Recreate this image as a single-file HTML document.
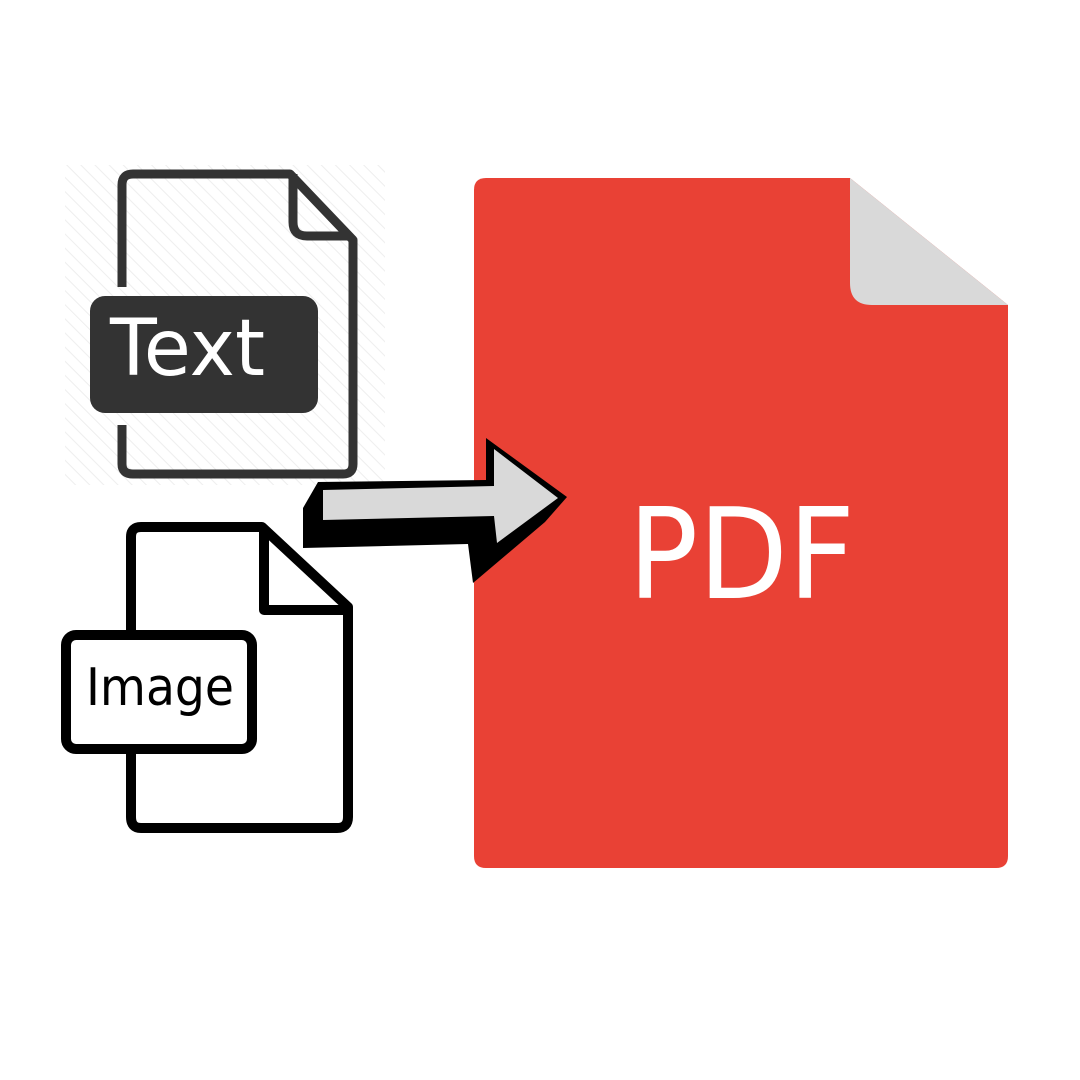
<!DOCTYPE html>
<html><head><meta charset="utf-8"><style>html,body{margin:0;padding:0;background:#fff}svg{display:block}</style></head>
<body>
<svg width="1080" height="1080" viewBox="0 0 1080 1080" xmlns="http://www.w3.org/2000/svg">
<defs>
<pattern id="h" width="10" height="10" patternUnits="userSpaceOnUse" patternTransform="rotate(-45)">
<line x1="0" y1="0" x2="0" y2="10" stroke="#eeeeee" stroke-width="2"/>
</pattern>
</defs>
<rect width="1080" height="1080" fill="#fff"/>
<rect x="65" y="165" width="320" height="320" fill="url(#h)"/>
<!-- PDF doc -->
<path d="M486 178 H850 L1008 305 V856 Q1008 868 996 868 H486 Q474 868 474 856 V190 Q474 178 486 178 Z" fill="#e94135"/>
<path d="M850 178 L1008 305 H872 Q850 305 850 283 Z" fill="#d9d9d9"/>
<text x="628" y="598" font-family="DejaVu Sans, Liberation Sans, sans-serif" font-size="126" fill="#fff" textLength="227" lengthAdjust="spacingAndGlyphs">PDF</text>
<!-- Text doc -->
<g fill="none" stroke="#333" stroke-width="9" stroke-linejoin="round">
<path d="M122 287 V185 Q122 174 133 174 H290 L353 240 V464 Q353 474 343 474 H133 Q122 474 122 464 V425"/>
<path d="M293 174 V222 Q293 236 307 236 H351"/>
</g>
<rect x="90" y="296" width="228" height="117" rx="15" fill="#333"/>
<text x="110" y="375" font-family="DejaVu Sans, Liberation Sans, sans-serif" font-size="78" fill="#fff" textLength="155" lengthAdjust="spacingAndGlyphs">Text</text>
<!-- Image doc -->
<g fill="none" stroke="#000" stroke-width="10" stroke-linejoin="round">
<path d="M131 636 V537 Q131 527 141 527 H262 L348 607 V817 Q348 828 337 828 H141 Q131 828 131 817 V750"/>
<path d="M264 527 V610 H346"/>
</g>
<rect x="66" y="635" width="186" height="114" rx="10" fill="#fff" stroke="#000" stroke-width="10"/>
<text x="86" y="705" font-family="DejaVu Sans, Liberation Sans, sans-serif" font-size="52" fill="#000" textLength="148" lengthAdjust="spacingAndGlyphs">Image</text>
<!-- Arrow -->
<polygon points="318,482 303,508 303,548 468,544 473,583 545,522 567,497 486,438 486,480" fill="#000"/>
<polygon points="323,490 494,486 494,449 558,498 497,543 494,516 323,520" fill="#d9d9d9"/>
</svg>
</body></html>
